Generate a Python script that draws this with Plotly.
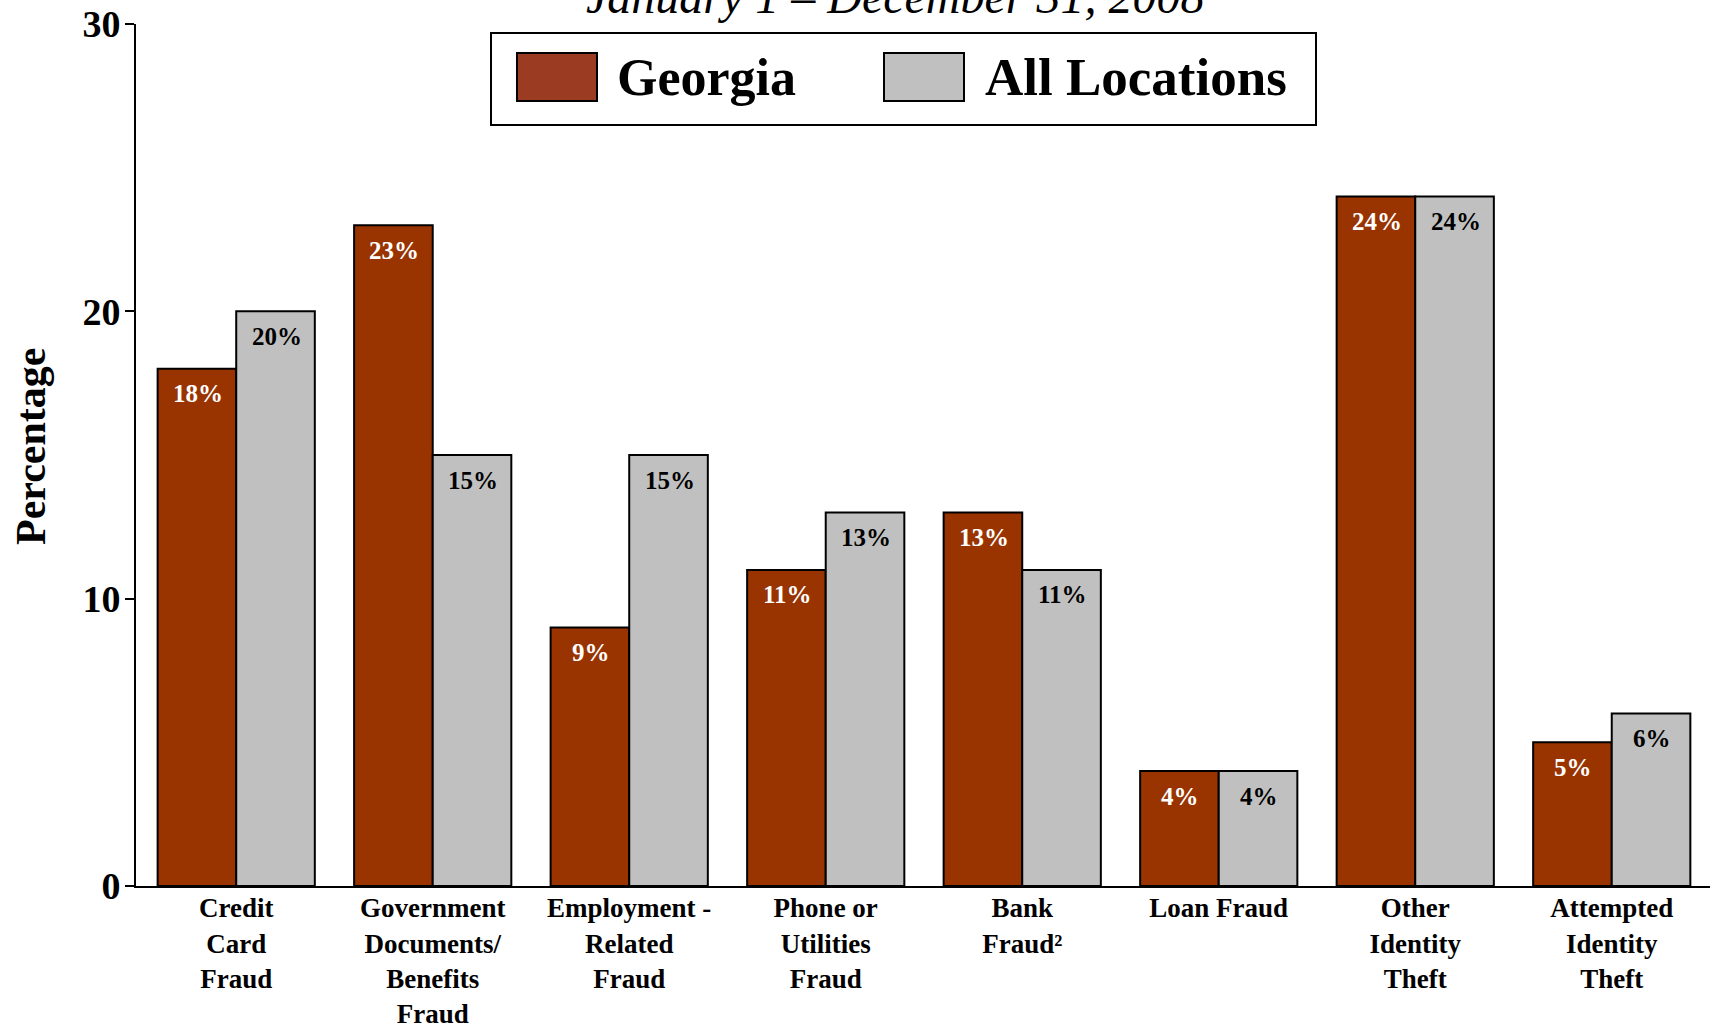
import plotly.graph_objects as go

categories = [
    "Credit<br>Card<br>Fraud",
    "Government<br>Documents/<br>Benefits<br>Fraud",
    "Employment -<br>Related<br>Fraud",
    "Phone or<br>Utilities<br>Fraud",
    "Bank<br>Fraud²",
    "Loan Fraud",
    "Other<br>Identity<br>Theft",
    "Attempted<br>Identity<br>Theft",
]
georgia = [18, 23, 9, 11, 13, 4, 24, 5]
all_locations = [20, 15, 15, 13, 11, 4, 24, 6]
series_names = ["Georgia", "All Locations"]
y_ticks = [0, 10, 20, 30]
subtitle = "January 1 – December 31, 2008"
y_title = "Percentage"

FONT = "Liberation Serif"
W, H = 1710, 1027
ML, MR, MT, MB = 136, 0, 24, 141
RUST = "#993300"
RUST_LEG = "#9B3C22"
GRAY = "#C0C0C0"


def px(xp):
    return (xp - ML) / (W - ML - MR)


def py(yp):
    return (H - MB - yp) / (H - MT - MB)


fig = go.Figure()
fig.add_trace(go.Bar(x=categories, y=georgia, name=series_names[0],
                     marker=dict(color=RUST, line=dict(color="black", width=2))))
fig.add_trace(go.Bar(x=categories, y=all_locations, name=series_names[1],
                     marker=dict(color=GRAY, line=dict(color="black", width=2))))

annotations = []
bar_half = 39.3
for cat, g, a in zip(categories, georgia, all_locations):
    annotations.append(dict(x=cat, y=g, xref="x", yref="y", text=f"{g}%",
                            showarrow=False, xshift=-bar_half + 1, yshift=-25,
                            yanchor="middle",
                            font=dict(family=FONT, size=25, color="white", weight="bold")))
    annotations.append(dict(x=cat, y=a, xref="x", yref="y", text=f"{a}%",
                            showarrow=False, xshift=bar_half + 1, yshift=-25,
                            yanchor="middle",
                            font=dict(family=FONT, size=25, color="black", weight="bold")))

# subtitle, clipped at top of page
annotations.append(dict(x=px(895), y=1.0, xref="paper", yref="paper", yanchor="bottom",
                        yshift=-1, text=subtitle, showarrow=False,
                        font=dict(family=FONT, size=48, color="black", style="italic")))

# y-axis title
annotations.append(dict(x=px(31), y=py(447), xref="paper", yref="paper",
                        xanchor="center", yanchor="middle", textangle=-90,
                        text=y_title, showarrow=False,
                        font=dict(family=FONT, size=42, color="black", weight="bold")))

# manual legend
shapes = [
    dict(type="rect", xref="paper", yref="paper", x0=px(491), x1=px(1316),
         y0=py(125), y1=py(33), line=dict(color="black", width=2), fillcolor="white"),
    dict(type="rect", xref="paper", yref="paper", x0=px(517), x1=px(597),
         y0=py(101), y1=py(53), line=dict(color="black", width=2), fillcolor=RUST_LEG),
    dict(type="rect", xref="paper", yref="paper", x0=px(884), x1=px(964),
         y0=py(101), y1=py(53), line=dict(color="black", width=2), fillcolor=GRAY),
]
annotations.append(dict(x=px(615), y=py(77), xref="paper", yref="paper", xanchor="left",
                        yanchor="middle", text=series_names[0], showarrow=False,
                        font=dict(family=FONT, size=52, color="black", weight="bold")))
annotations.append(dict(x=px(983), y=py(77), xref="paper", yref="paper", xanchor="left",
                        yanchor="middle", text=series_names[1], showarrow=False,
                        font=dict(family=FONT, size=53, color="black", weight="bold")))

fig.update_layout(
    width=W, height=H,
    margin=dict(l=ML, r=MR, t=MT, b=MB, pad=0, autoexpand=False),
    paper_bgcolor="white", plot_bgcolor="white",
    barmode="group", bargap=0.2, bargroupgap=0,
    showlegend=False,
    shapes=shapes,
    annotations=annotations,
    font=dict(family=FONT, color="black"),
)
fig.update_xaxes(
    range=[-0.51, 7.5], showline=True, linecolor="black", linewidth=2,
    ticks="", showgrid=False, tickangle=0, automargin=False,
    ticklabelstandoff=-3,
    tickfont=dict(family=FONT, size=27, color="black", weight="bold"),
)
fig.update_yaxes(
    range=[0, 30], tickvals=y_ticks, showline=True, linecolor="black", linewidth=2,
    ticks="outside", ticklen=9, tickwidth=2, tickcolor="black", showgrid=False,
    zeroline=False, automargin=False, ticklabelstandoff=-3,
    tickfont=dict(family=FONT, size=38, color="black", weight="bold"),
)

fig.write_html("out.html", config={"displayModeBar": False},
               post_script="document.body.style.margin='0';document.body.style.overflow='hidden';")
